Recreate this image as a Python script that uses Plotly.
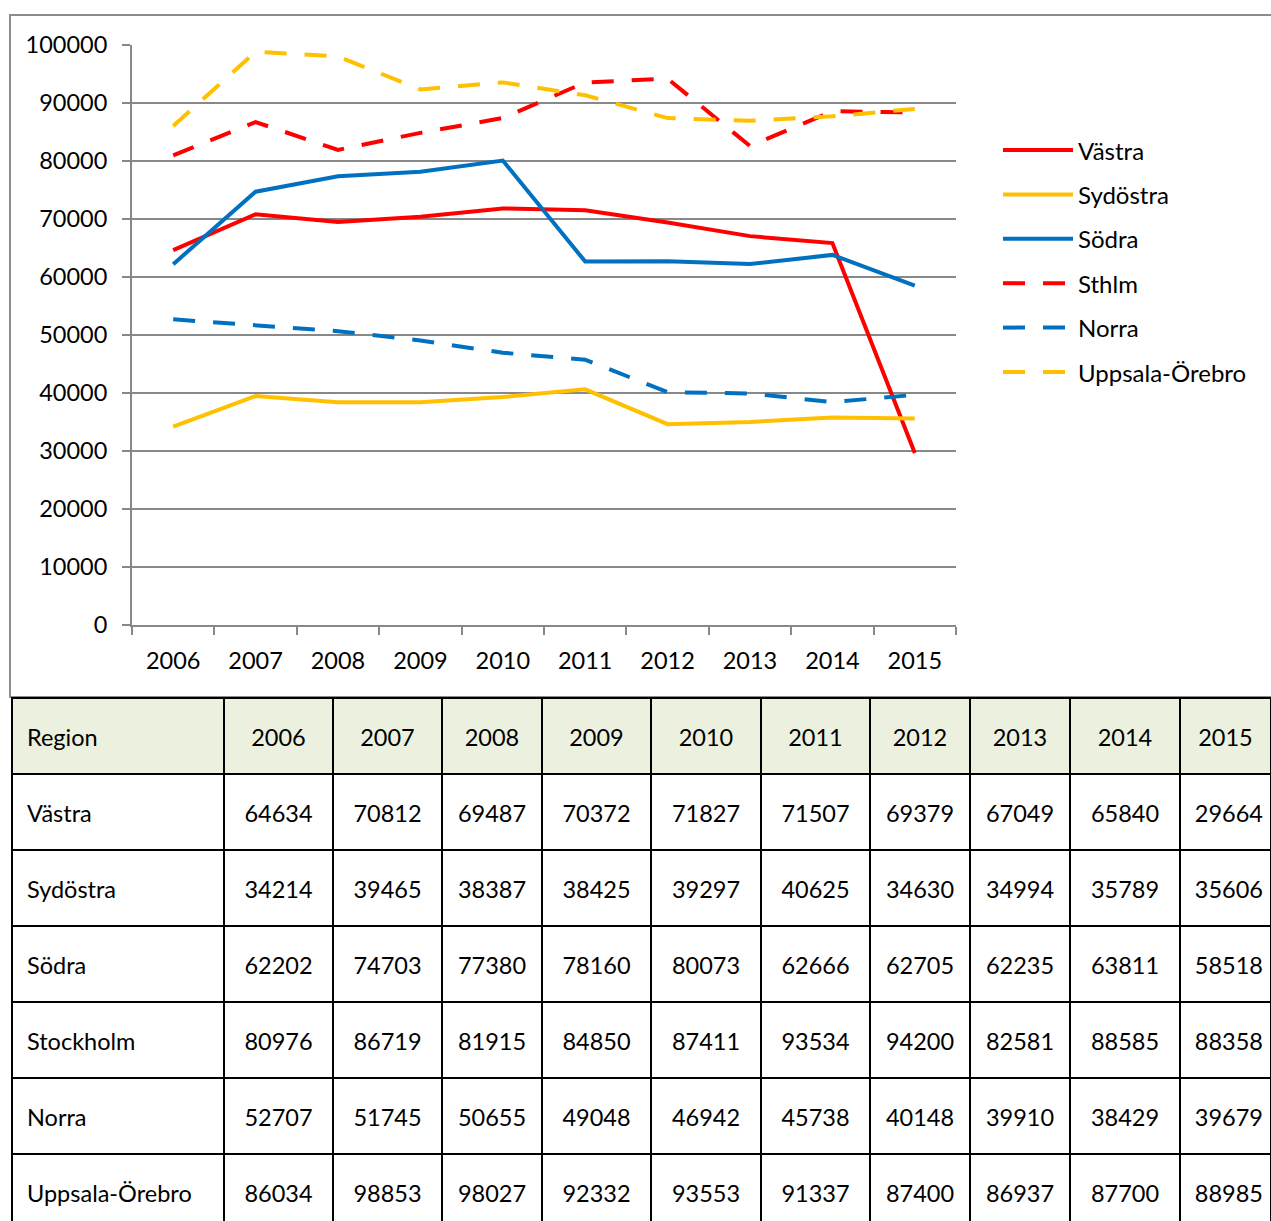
import plotly.graph_objects as go

W, H = 1271, 1221

years = ["2006", "2007", "2008", "2009", "2010", "2011", "2012", "2013", "2014", "2015"]
series_names = ["Västra", "Sydöstra", "Södra", "Sthlm", "Norra", "Uppsala-Örebro"]
table_names = ["Västra", "Sydöstra", "Södra", "Stockholm", "Norra", "Uppsala-Örebro"]

vastra = [64634, 70812, 69487, 70372, 71827, 71507, 69379, 67049, 65840, 29664]
sydostra = [34214, 39465, 38387, 38425, 39297, 40625, 34630, 34994, 35789, 35606]
sodra = [62202, 74703, 77380, 78160, 80073, 62666, 62705, 62235, 63811, 58518]
sthlm = [80976, 86719, 81915, 84850, 87411, 93534, 94200, 82581, 88585, 88358]
norra = [52707, 51745, 50655, 49048, 46942, 45738, 40148, 39910, 38429, 39679]
uppsala = [86034, 98853, 98027, 92332, 93553, 91337, 87400, 86937, 87700, 88985]

all_series = [vastra, sydostra, sodra, sthlm, norra, uppsala]
colors = ["#FF0000", "#FFC000", "#0070C0", "#FF0000", "#0070C0", "#FFC000"]
dashes = ["solid", "solid", "solid", "22px,18px", "22px,18px", "22px,18px"]

FONT = "Lato"
FS = 23.5
GRID = "#888888"


def px(x):
    return x / W


def py(y):
    return 1 - y / H


fig = go.Figure()

for name, vals, col, dash in zip(series_names, all_series, colors, dashes):
    fig.add_trace(go.Scatter(
        x=years, y=vals, name=name, mode="lines",
        line=dict(color=col, width=4, dash=dash),
        showlegend=False,
    ))

# hand made legend, long line samples like the original
for i, (name, col, dash) in enumerate(zip(series_names, colors, dashes)):
    yy = py(150 + i * 44.4)
    fig.add_shape(type="line", xref="paper", yref="paper",
                  x0=px(1003), x1=px(1073), y0=yy, y1=yy,
                  line=dict(color=col, width=4, dash=dash))
    fig.add_annotation(xref="paper", yref="paper", x=px(1076), y=yy,
                       text=name, showarrow=False, xanchor="left", yanchor="middle",
                       font=dict(family=FONT, size=24, color="black"))

# chart frame
fig.add_shape(type="rect", xref="paper", yref="paper",
              x0=px(10), x1=px(1300), y0=py(697), y1=py(15),
              line=dict(color="#8c8c8c", width=2), layer="below")

# data table under the chart
header = ["Region"] + years
cols = [table_names] + [[s[j] for s in all_series] for j in range(len(years))]
blank = [[""] * len(table_names) for _ in header]
widths = [212, 109, 109, 100, 109, 110, 109, 100, 100, 110, 91]
head_align = ["left"] + ["center"] * 10
cell_align = ["left"] + ["center"] * 9 + ["right"]  # last column is cut off at the edge

# grid + fills
fig.add_trace(go.Table(
    domain=dict(x=[px(12), 1], y=[0, py(698)]),
    columnwidth=widths,
    header=dict(values=[""] * len(header), fill_color="#EBF1DE", height=76,
                line=dict(color="black", width=2)),
    cells=dict(values=blank, fill_color="white", height=76,
               line=dict(color="black", width=2)),
))
# text, pushed down so it sits in the middle of each cell
fig.add_trace(go.Table(
    domain=dict(x=[px(19), 1], y=[0, py(720)]),
    columnwidth=[widths[0] - 7] + widths[1:],
    header=dict(values=header, fill_color="rgba(0,0,0,0)", height=76, align=head_align,
                line=dict(color="rgba(0,0,0,0)", width=0),
                font=dict(family=FONT, size=FS, color="black")),
    cells=dict(values=cols, fill_color="rgba(0,0,0,0)", height=76, align=cell_align,
               line=dict(color="rgba(0,0,0,0)", width=0),
               font=dict(family=FONT, size=FS, color="black")),
))

fig.update_layout(
    width=W, height=H,
    margin=dict(l=0, r=0, t=0, b=0, pad=0, autoexpand=False),
    showlegend=False,
    paper_bgcolor="white", plot_bgcolor="white",
    font=dict(family=FONT, size=FS, color="black"),
    xaxis=dict(domain=[px(132), px(956)], type="category", range=[-0.5, 9.5],
               automargin=False,
               showgrid=False, showline=True, linecolor=GRID, linewidth=2,
               ticks="outside", tickson="boundaries", ticklen=8, tickwidth=2,
               tickcolor=GRID, ticklabelstandoff=14),
    yaxis=dict(domain=[py(625), py(45)], range=[0, 100000], dtick=10000,
               tickformat="d", automargin=False,
               showgrid=True, gridcolor=GRID, gridwidth=2, zeroline=False,
               showline=True, linecolor=GRID, linewidth=2,
               ticks="outside", ticklen=8, tickwidth=2, tickcolor=GRID,
               ticklabelstandoff=10),
)

js = "document.body.style.margin='0';document.body.style.overflow='hidden';"
fig.write_html("out.html", post_script=js, config={"displayModeBar": False})
